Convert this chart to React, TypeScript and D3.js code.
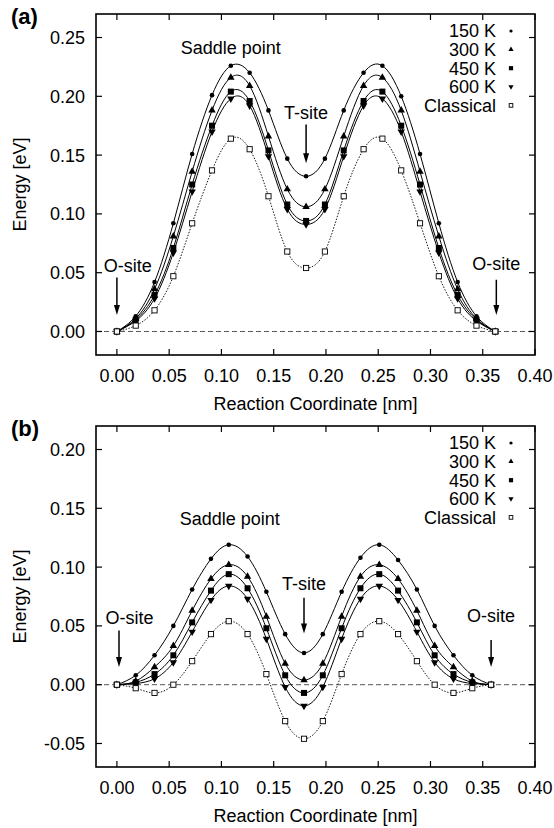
import * as d3 from 'd3'

// reaction coordinate [nm] of the computed images
const coordA = [0.000, 0.018, 0.036, 0.054, 0.072, 0.091, 0.109, 0.127, 0.145, 0.163, 0.181,
  0.199, 0.217, 0.236, 0.254, 0.272, 0.290, 0.308, 0.326, 0.344, 0.362]
const coordB = [0.000, 0.018, 0.036, 0.054, 0.072, 0.090, 0.107, 0.125, 0.143, 0.161, 0.179,
  0.197, 0.215, 0.233, 0.251, 0.269, 0.287, 0.304, 0.322, 0.340, 0.358]

const seriesNames = ['150 K', '300 K', '450 K', '600 K', 'Classical']

// panel (a) energies [eV]
const a150 = [0, 0.013, 0.042, 0.092, 0.151, 0.201, 0.226, 0.220, 0.188, 0.147, 0.132,
  0.147, 0.188, 0.220, 0.226, 0.200, 0.151, 0.092, 0.042, 0.013, 0]
const a300 = [0, 0.011, 0.036, 0.081, 0.136, 0.188, 0.216, 0.209, 0.166, 0.121, 0.106,
  0.121, 0.166, 0.209, 0.216, 0.188, 0.136, 0.081, 0.036, 0.011, 0]
const a450 = [0, 0.010, 0.031, 0.071, 0.125, 0.175, 0.204, 0.196, 0.154, 0.108, 0.094,
  0.108, 0.154, 0.196, 0.204, 0.175, 0.125, 0.071, 0.031, 0.010, 0]
const a600 = [0, 0.009, 0.028, 0.067, 0.119, 0.170, 0.198, 0.192, 0.149, 0.104, 0.091,
  0.104, 0.149, 0.192, 0.198, 0.170, 0.119, 0.067, 0.028, 0.009, 0]
const aClassical = [0, 0.005, 0.018, 0.047, 0.092, 0.137, 0.164, 0.155, 0.115, 0.068, 0.054,
  0.068, 0.115, 0.155, 0.164, 0.137, 0.092, 0.047, 0.018, 0.005, 0]

// panel (b) energies [eV]
const b150 = [0, 0.008, 0.025, 0.050, 0.081, 0.107, 0.119, 0.109, 0.079, 0.043, 0.027,
  0.043, 0.079, 0.108, 0.119, 0.106, 0.081, 0.050, 0.025, 0.008, 0]
const b300 = [0, 0.003, 0.015, 0.033, 0.063, 0.090, 0.102, 0.092, 0.058, 0.018, 0.004,
  0.018, 0.058, 0.092, 0.102, 0.090, 0.063, 0.033, 0.015, 0.003, 0]
const b450 = [0, 0.002, 0.009, 0.025, 0.053, 0.080, 0.094, 0.082, 0.048, 0.008, -0.007,
  0.008, 0.048, 0.082, 0.094, 0.080, 0.053, 0.025, 0.009, 0.002, 0]
const b600 = [0, 0.001, 0.005, 0.019, 0.045, 0.072, 0.084, 0.073, 0.039, -0.002, -0.018,
  -0.002, 0.039, 0.073, 0.084, 0.072, 0.045, 0.019, 0.005, 0.001, 0]
const bClassical = [0, -0.003, -0.007, 0.000, 0.020, 0.043, 0.054, 0.043, 0.009, -0.031, -0.046,
  -0.031, 0.009, 0.043, 0.054, 0.043, 0.020, 0.000, -0.007, -0.003, 0]

const xTicks = [0, 0.05, 0.1, 0.15, 0.2, 0.25, 0.3, 0.35, 0.4]
const yTicksA = [0, 0.05, 0.1, 0.15, 0.2, 0.25]
const yTicksB = [-0.05, 0, 0.05, 0.1, 0.15, 0.2]

// annotation text: x (nm), baseline (eV)
type Label = { text: string, x: number, y: number }
const labelsA: Label[] = [
  { text: 'Saddle point', x: 0.109, y: 0.236 },
  { text: 'T-site', x: 0.181, y: 0.181 },
  { text: 'O-site', x: 0.0105, y: 0.051 },
  { text: 'O-site', x: 0.363, y: 0.052 },
]
// arrows: x (nm), from (eV), to (eV)
const arrowsA: [number, number, number][] = [
  [0.181, 0.176, 0.143], [0.0, 0.046, 0.014], [0.363, 0.044, 0.014],
]
const labelsB: Label[] = [
  { text: 'Saddle point', x: 0.108, y: 0.1355 },
  { text: 'T-site', x: 0.179, y: 0.0805 },
  { text: 'O-site', x: 0.012, y: 0.052 },
  { text: 'O-site', x: 0.358, y: 0.053 },
]
const arrowsB: [number, number, number][] = [
  [0.179, 0.074, 0.0435], [0.002, 0.046, 0.015], [0.358, 0.038, 0.015],
]

const FONT = "'Liberation Sans', Arial, Helvetica, sans-serif"
const W = 554
const H = 828
const left = 96
const right = 535

function Marker({ kind, x, y, legend }: { kind: number, x: number, y: number, legend?: boolean }) {
  const s = legend ? 0.7 : 1
  if (kind === 0) return <circle cx={x} cy={y} r={2.3 * s} fill="#000" />
  if (kind === 1 || kind === 3) {
    const p = d3.symbol().type(d3.symbolTriangle).size(24 * s * s)() as string
    return <path d={p} transform={`translate(${x},${y})${kind === 3 ? ' rotate(180)' : ''}`} fill="#000" />
  }
  if (kind === 2) {
    const h = 3 * s
    return <rect x={x - h} y={y - h} width={2 * h} height={2 * h} fill="#000" />
  }
  const h = 2.6 * s
  return <rect x={x - h} y={y - h} width={2 * h} height={2 * h} fill="#fff" stroke="#000" strokeWidth={0.9} />
}

function Arrow({ px, y1, y2 }: { px: number, y1: number, y2: number }) {
  return (
    <g>
      <line x1={px} x2={px} y1={y1} y2={y2 - 8} stroke="#000" strokeWidth={1.5} />
      <path d={`M${px - 3},${y2 - 10}L${px + 3},${y2 - 10}L${px},${y2}Z`} fill="#000" />
    </g>
  )
}

function Panel({ top, bottom, yDomain, yTicks, coord, series, tag, labels, arrows }: {
  top: number, bottom: number, yDomain: [number, number], yTicks: number[],
  coord: number[], series: number[][], tag: string, labels: Label[], arrows: [number, number, number][]
}) {
  const x = d3.scaleLinear().domain([-0.02, 0.4]).range([left, right])
  const y = d3.scaleLinear().domain(yDomain).range([bottom, top])
  const line = d3.line<number>()
    .x((_, i) => x(coord[i]))
    .y(d => y(d))
    .curve(d3.curveNatural)
  const tl = 6

  return (
    <g>
      <text x={11} y={top + 10} fontFamily={FONT} fontSize={22} fontWeight="bold">{tag}</text>

      {/* zero line */}
      <line x1={left} x2={right} y1={y(0)} y2={y(0)} stroke="#444" strokeWidth={0.9} strokeDasharray="5,3" />

      {series.map((vals, k) => (
        <path key={'l' + k} d={line(vals) as string} fill="none" stroke="#000"
          strokeWidth={k === 4 ? 0.9 : 1}
          strokeDasharray={k === 4 ? '1.5,1.5' : undefined} />
      ))}
      {series.map((vals, k) => vals.map((v, i) => (
        <Marker key={`m${k}-${i}`} kind={k} x={x(coord[i])} y={y(v)} />
      )))}

      {/* frame and ticks */}
      <rect x={left} y={top} width={right - left} height={bottom - top} fill="none" stroke="#000" strokeWidth={1.6} />
      {xTicks.map(t => (
        <g key={'x' + t}>
          <line x1={x(t)} x2={x(t)} y1={bottom} y2={bottom - tl} stroke="#000" strokeWidth={1.2} />
          <line x1={x(t)} x2={x(t)} y1={top} y2={top + tl} stroke="#000" strokeWidth={1.2} />
          <text x={x(t)} y={bottom + 27} textAnchor="middle" fontFamily={FONT} fontSize={18}>{t.toFixed(2)}</text>
        </g>
      ))}
      {yTicks.map(t => (
        <g key={'y' + t}>
          <line x1={left} x2={left + tl} y1={y(t)} y2={y(t)} stroke="#000" strokeWidth={1.2} />
          <line x1={right} x2={right - tl} y1={y(t)} y2={y(t)} stroke="#000" strokeWidth={1.2} />
          <text x={left - 11} y={y(t) + 6.4} textAnchor="end" fontFamily={FONT} fontSize={18}>{t.toFixed(2)}</text>
        </g>
      ))}
      <text x={(left + right) / 2} y={bottom + 55} textAnchor="middle" fontFamily={FONT} fontSize={18}>Reaction Coordinate [nm]</text>
      <text transform={`translate(26,${(top + bottom) / 2}) rotate(-90)`} textAnchor="middle" fontFamily={FONT} fontSize={18}>Energy [eV]</text>

      {/* legend */}
      {seriesNames.map((name, k) => (
        <g key={'lg' + k}>
          <text x={496} y={top + 17 + k * 18.6 + 6.4} textAnchor="end" fontFamily={FONT} fontSize={18}>{name}</text>
          <Marker kind={k} x={511} y={top + 17 + k * 18.6} legend />
        </g>
      ))}

      {/* annotations */}
      {labels.map((lb, i) => (
        <text key={'a' + i} x={x(lb.x)} y={y(lb.y)} textAnchor="middle" fontFamily={FONT} fontSize={18}>{lb.text}</text>
      ))}
      {arrows.map((a, i) => <Arrow key={'ar' + i} px={x(a[0])} y1={y(a[1])} y2={y(a[2])} />)}
    </g>
  )
}

export default function App() {
  return (
    <svg width={W} height={H} style={{ position: 'absolute', left: 0, top: 0, background: '#fff' }}>
      <Panel top={14} bottom={355} yDomain={[-0.02, 0.27]} yTicks={yTicksA} coord={coordA}
        series={[a150, a300, a450, a600, aClassical]} tag="(a)" labels={labelsA} arrows={arrowsA} />
      <Panel top={426} bottom={767} yDomain={[-0.07, 0.22]} yTicks={yTicksB} coord={coordB}
        series={[b150, b300, b450, b600, bClassical]} tag="(b)" labels={labelsB} arrows={arrowsB} />
    </svg>
  )
}
